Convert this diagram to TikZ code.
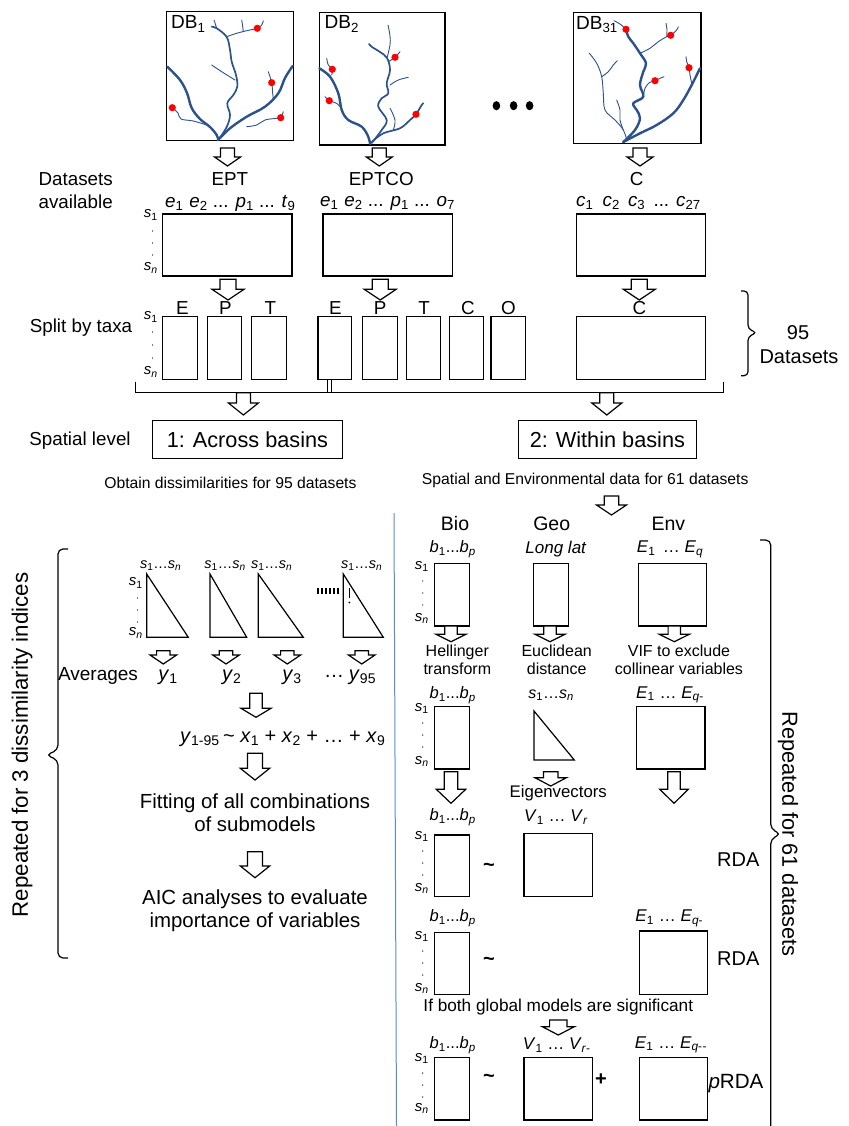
\documentclass[tikz,border=0pt]{standalone}
\usepackage{fontspec}
\setmainfont{Liberation Sans}
\definecolor{rivc}{RGB}{44,82,140}
\definecolor{sepc}{RGB}{90,140,205}
\newcommand\fs[2]{\fontsize{#1pt}{#2pt}\selectfont}
\newcommand\sone{\textit{s}\textsubscript{1}}
\newcommand\sen{\textit{s}\textsubscript{\textit{n}}}
\newcommand\rbox[5]{\node[bx, minimum width={(#4)-(#2)}, minimum height={(#5)-(#3)}] (#1) at ({((#2)+(#4))/2},{((#3)+(#5))/2}) {};}
\newcommand\barr[6]{\draw[barrst] ({#1-#5},#2) -- ({#1+#5},#2) -- ({#1+#5},#3) -- ({#1+#6},#3) -- (#1,#4) -- ({#1-#6},#3) -- ({#1-#5},#3) -- cycle;}
\newcommand\tri[4]{\draw[ln, line join=miter] (#1,#2) -- (#1,#4) -- (#3,#4) -- cycle;}
\newcommand\sdots[4]{\foreach \yy in {#2,#3,#4} \fill (#1,\yy) circle (0.7pt);}
\tikzset{
 bx/.style={draw, line width=1.2pt, inner sep=0pt},
 ln/.style={line width=1.2pt},
 barrst/.style={draw, line width=1.2pt, fill=white, line join=miter},
 riv/.style={rivc, line width=0.9pt, line cap=round, line join=round},
 rivm/.style={riv, line width=1.7pt},
 rivt/.style={riv, line width=2.4pt},
 tx/.style={inner sep=0pt, align=center},
 dotr/.style={fill=red},
}
\begin{document}
\begin{tikzpicture}[x=1pt,y=-1pt]
\useasboundingbox (0,0) rectangle (848,1126);
\fill[white] (0,0) rectangle (848,1126);

% ---------- DB boxes ----------
\rbox{db1}{166.7}{11.7}{293.3}{140.7}
\rbox{db2}{319.3}{12.7}{445}{145}
\rbox{db31}{573.3}{12.7}{701}{143.3}
\node[tx, anchor=west, font={\fs{19}{22}}] (db1l) at (171,24) {DB\textsubscript{1}};
\node[tx, anchor=west, font={\fs{19}{22}}] (db2l) at (324.5,24) {DB\textsubscript{2}};
\node[tx, anchor=west, font={\fs{19}{22}}] (db31l) at (576,24.5) {DB\textsubscript{31}};

% rivers DB1
\draw[rivt] plot[smooth, tension=0.6] coordinates {(167.3,66.7) (180,80) (187,93) (191.7,108) (200,119) (210,127) (216.7,135) (218.3,140)};
\draw[rivt] plot[smooth, tension=0.6] coordinates {(292.7,66) (285,78) (278.3,93.3) (265,106.7) (246.7,116.7) (230,128.3) (218,140)};
\draw[rivm] plot[smooth, tension=0.6] coordinates {(218.3,140) (226.7,127) (230,115) (227.3,103.3) (233.3,95) (237.3,86.7) (236,75) (231.7,61.7) (230,50) (226.7,37) (216.7,28.3) (211.7,26.7)};
\draw[riv] plot[smooth, tension=0.6] coordinates {(172.3,107.7) (178,113) (181,119) (193.3,121) (206.7,125)};
\draw[riv] plot[smooth, tension=0.6] coordinates {(235,80) (221.7,71.7) (211.7,65)};
\draw[riv] plot[smooth, tension=0.6] coordinates {(226.7,36.7) (236.7,33.3) (246.7,30.7) (257.3,28.3) (261.7,25) (263.3,20.7)};
\draw[riv] plot[smooth, tension=0.6] coordinates {(243.3,31.7) (242.5,25) (241.7,20)};
\draw[riv] plot[smooth, tension=0.6] coordinates {(216.7,28.3) (214,20)};
\draw[riv] plot[smooth, tension=0.6] coordinates {(268.3,71.7) (271.7,82.7) (272.7,93.3) (273.3,99)};
\draw[riv] plot[smooth, tension=0.6] coordinates {(246.7,126.7) (256.7,125) (265,120) (276.7,118.3) (280.7,117.7) (283.3,111.7)};
\foreach \p in {(172.3,107.7),(257.3,28.3),(271.7,82.7),(280.7,117.7)} \fill[dotr] \p circle (3.6pt);

% rivers DB2
\draw[rivt] plot[smooth, tension=0.6] coordinates {(319.3,68.3) (330,76.7) (338.3,93.3) (341.7,110) (348.3,120) (361.7,126.7) (368.3,136.7) (370,144)};
\draw[rivm] plot[smooth, tension=0.6] coordinates {(371.7,143) (381.7,130) (386.7,120) (378.3,106.7) (381.7,98.3) (388.3,93.3) (386.7,83.3) (390,70) (387,58) (380,52) (372,47) (369,44)};
\draw[riv] plot[smooth, tension=0.6] coordinates {(387,58) (390,45) (390,36) (388,25)};
\draw[rivm] plot[smooth, tension=0.6] coordinates {(371.7,142) (383.3,133.3) (400,128.3) (410,120) (416,114.3) (421.7,105) (423.3,103.3)};
\draw[riv] plot[smooth, tension=0.6] coordinates {(326.7,58.3) (328.3,65) (332.3,69.3) (331.7,75)};
\draw[riv] plot[smooth, tension=0.6] coordinates {(325,96.7) (329.3,100.7) (336.7,103.3) (340,106.7)};
\draw[riv] plot[smooth, tension=0.6] coordinates {(388.3,61.7) (395,57.3) (400,51.7)};
\draw[riv] plot[smooth, tension=0.6] coordinates {(390,85) (398.3,80) (408.3,77.3)};
\draw[riv] plot[smooth, tension=0.6] coordinates {(393.3,130) (395,120) (390,108.3)};
\foreach \p in {(332.3,69.3),(329.3,100.7),(395,57.3),(416,114.3)} \fill[dotr] \p circle (3.6pt);

% rivers DB31
\draw[rivt] plot[smooth, tension=0.6] coordinates {(623.3,142) (635,130) (640,118.3) (636.7,110) (633.3,103.3) (643.3,96.7) (640,85) (643.3,71.7) (646,63.3) (640,53.3) (633.3,43.3) (628.3,36.7) (626,29.3)};
\draw[riv] plot[smooth, tension=0.6] coordinates {(626,29.3) (620,24) (614,20.7)};
\draw[rivt] plot[smooth, tension=0.6] coordinates {(623.3,142) (640,133.3) (656.7,125) (673.3,113.3) (683.3,100) (691.7,85) (696.7,75) (700,68.3)};
\draw[riv] plot[smooth, tension=0.6] coordinates {(640,53.3) (650,48.3) (658.3,41.7) (666.7,36.7) (670.7,35.3) (676.7,30) (678.3,26.7)};
\draw[riv] plot[smooth, tension=0.6] coordinates {(666.7,36.7) (667,30) (666,23.3)};
\draw[riv] plot[smooth, tension=0.6] coordinates {(643.3,96.7) (645,88.3) (649.3,82.7) (655,80.7) (660,78.3) (664,76.7)};
\draw[riv] plot[smooth, tension=0.6] coordinates {(686,56.7) (686.7,61.7) (689,67.7) (690,75) (691.7,83.3)};
\draw[riv] plot[smooth, tension=0.6] coordinates {(589.3,53.3) (596.7,63.3) (601.7,76.7) (603.3,93.3) (605,110) (615,120) (623.3,130) (627,141)};
\draw[riv] plot[smooth, tension=0.6] coordinates {(601.7,76.7) (608.3,71.7) (613.3,65) (617.3,60.7)};
\draw[riv] plot[smooth, tension=0.6] coordinates {(616.7,100) (620,110) (620,120) (623.3,130)};
\foreach \p in {(626,29.3),(670.7,35.3),(655,80.7),(689,67.7)} \fill[dotr] \p circle (3.6pt);

% ellipsis dots
\foreach \xx in {496.4,513.6,529.6} \fill (\xx,105.7) ellipse (3.8pt and 4.6pt);

% top arrows
\barr{227.5}{148}{157}{166}{7}{13}
\barr{379.3}{148}{157}{166}{7}{13}
\barr{640}{148}{157}{166}{7}{13}

% ---------- datasets available ----------
\node[tx, font={\fs{18.8}{23}}] (dsa) at (75.7,190.5) {Datasets\\available};
\node[tx, font={\fs{18.8}{22}}] (ept) at (229.9,179) {EPT};
\node[tx, font={\fs{18.8}{22}}] (eptco) at (381.3,179) {EPTCO};
\node[tx, font={\fs{18.8}{22}}] (cc) at (636.6,179) {C};
\node[tx, anchor=west, font={\fs{18.8}{22}}] (cl1) at (165,203) {\textit{e}\textsubscript{1}\hspace{6pt}\textit{e}\textsubscript{2} ... \textit{p}\textsubscript{1} ... \textit{t}\textsubscript{9}};
\node[tx, anchor=west, font={\fs{18.8}{22}}] (cl2) at (320,203) {\textit{e}\textsubscript{1}\hspace{6pt}\textit{e}\textsubscript{2} ... \textit{p}\textsubscript{1} ... \textit{o}\textsubscript{7}};
\node[tx, anchor=west, font={\fs{18.8}{22}}] (cl3) at (576,203) {\textit{c}\textsubscript{1}\hspace{4pt} \textit{c}\textsubscript{2}\hspace{3pt} \textit{c}\textsubscript{3}\hspace{3pt} ... \textit{c}\textsubscript{27}};
\rbox{dept}{162.2}{214}{292}{276}
\rbox{deptco}{322.9}{214}{452.7}{276}
\rbox{dc}{576.5}{214}{705.8}{276}
\node[tx, anchor=east, font={\fs{15}{18}}] (s1a) at (158,215) {\sone};
\node[tx, anchor=east, font={\fs{15}{18}}] (sna) at (158,268) {\sen};
\sdots{152.5}{231}{243}{255}

% arrows to split
\barr{228}{279.3}{289.3}{300}{8}{16}
\barr{380.2}{279.3}{289.3}{300}{8}{16}
\barr{639.3}{279.3}{289.3}{300}{8}{16}

% ---------- split by taxa ----------
\node[tx, font={\fs{18.8}{22}}] (sbt) at (81,328) {Split by taxa};
\node[tx, anchor=east, font={\fs{15}{18}}] (s1b) at (158,317) {\sone};
\node[tx, anchor=east, font={\fs{15}{18}}] (snb) at (158,372) {\sen};
\sdots{152.5}{332}{345}{358}
\foreach \lx/\lt in {182.3/E,225.5/P,270.4/T,335.3/E,380.2/P,424/T,467.8/C,508.4/O,639.3/C}
  \node[tx, font={\fs{18.8}{22}}] at (\lx,308.5) {\lt};
\rbox{sE1}{162.2}{316.7}{197.4}{379.3}
\rbox{sP1}{207.1}{316.7}{241.8}{379.3}
\rbox{sT1}{251.5}{316.7}{286.6}{379.3}
\rbox{sE2}{318}{316.7}{351.5}{379.3}
\rbox{sP2}{362.4}{316.7}{397.5}{379.3}
\rbox{sT2}{406.7}{316.7}{440.8}{379.3}
\rbox{sC2}{449.4}{316.7}{483.5}{379.3}
\rbox{sO2}{491}{316.7}{525.7}{379.3}
\rbox{sC3}{576.5}{316.7}{705.8}{379.3}
\draw[ln, rounded corners=4pt] (741,291) -- (748,291) -- (748,329) -- (757,332.7) -- (748,336.5) -- (748,375.7) -- (741,375.7);
\node[tx, font={\fs{20}{24}}] (n95) at (798,333) {95};
\node[tx, font={\fs{20}{24}}] (n95d) at (799,357) {Datasets};

% bracket
\draw[ln] (135.2,381.7) -- (135.2,392.7) -- (723.6,392.7) -- (723.6,381.7);
\draw[line width=0.9pt] (327.2,379.3) -- (327.2,392.7) (331,379.3) -- (331,392.7);
\barr{243.4}{392.7}{403}{415}{7}{15}
\barr{606.8}{392.7}{403}{415}{7}{15}

% ---------- spatial level ----------
\node[tx, font={\fs{18.8}{22}}] (spl) at (80,441) {Spatial level};
\rbox{across}{152.5}{420.7}{342.3}{458.3}
\rbox{within}{518.1}{420.7}{696.6}{458.3}
\node[tx, font={\fs{21.7}{25}}] at (across) {1: Across basins};
\node[tx, font={\fs{21.7}{25}}] at (within) {2: Within basins};
\node[tx, font={\fs{15.7}{19}}] (obt) at (230.4,482.7) {Obtain dissimilarities for 95 datasets};
\node[tx, font={\fs{15.7}{19}}] (sed) at (585.2,480.7) {Spatial and Environmental data for 61 datasets};
\barr{611.5}{496}{505}{515}{7.3}{15}

% separator
\draw[sepc, line width=1pt] (394,513) -- (396.5,1126);

% ---------- left branch ----------
\draw[ln, rounded corners=5pt] (68,549) -- (58,549) -- (58,750) -- (46,755) -- (58,760) -- (58,958) -- (68,958);
\node[tx, rotate=90, font={\fs{22.3}{26}}] (rep3) at (22,745) {Repeated for 3 dissimilarity indices};

\foreach \tl/\tr/\lc in {146.7/188.3/160.7, 210/246.7/225, 258.3/303.3/271.7, 343.3/383.3/361.7} {
  \tri{\tl}{574}{\tr}{637.3}
  \node[tx, font={\fs{14.5}{17}}] at (\lc,566) {\textit{s}\textsubscript{1}…\textit{s}\textsubscript{\textit{n}}};
}
\node[tx, anchor=east, font={\fs{15}{18}}] (s1c) at (143,583) {\sone};
\node[tx, anchor=east, font={\fs{15}{18}}] (snc) at (143,633) {\sen};
\sdots{137.5}{598}{610}{622}
\foreach \xx in {318,322,326,330,334,338} \draw[line width=1.1pt] (\xx,588) -- (\xx,594);
\draw[line width=1.3pt] (349.3,588) -- (349.3,598);
\fill (349.3,602.5) circle (1pt);
\foreach \xx in {163.3,226,287.3,361.7} {\barr{\xx}{650.7}{655}{664}{6.7}{13.3}}
\node[tx, font={\fs{19}{22}}] (avg) at (98,676) {Averages};
\node[tx, font={\fs{20}{22}}] at (168,677) {\textit{y}\textsubscript{1}};
\node[tx, font={\fs{20}{22}}] at (231.7,677) {\textit{y}\textsubscript{2}};
\node[tx, font={\fs{20}{22}}] at (292,677) {\textit{y}\textsubscript{3}};
\node[tx, font={\fs{20}{22}}] at (334,676) {…};
\node[tx, font={\fs{20}{22}}] at (362.5,677) {\textit{y}\textsubscript{95}};
\barr{256}{693.3}{708.3}{717.3}{6.2}{15}
\node[tx, anchor=west, font={\fs{20}{22}}] (form) at (180,739) {\textit{y}\textsubscript{1-95}\,\textasciitilde{} \textit{x}\textsubscript{1} + \textit{x}\textsubscript{2} + … + \textit{x}\textsubscript{9}};
\barr{255}{753.3}{768.3}{780}{7.5}{14.7}
\node[tx, font={\fs{20.4}{23}}] (fit) at (255,812.5) {Fitting of all combinations\\of submodels};
\barr{255}{851.7}{866}{877.7}{7.5}{14.7}
\node[tx, font={\fs{20.4}{22.5}}] (aic) at (255,910.5) {AIC analyses to evaluate\\importance of variables};

% ---------- right branch ----------
\draw[ln, rounded corners=5pt] (760,540) -- (770.7,540) -- (770.7,829) -- (781,834) -- (770.7,839) -- (770.7,1140);
\node[tx, rotate=-90, font={\fs{21.8}{25}}] (rep61) at (788,834) {Repeated for 61 datasets};

\node[tx, font={\fs{19.5}{22}}] (bio) at (455,524) {Bio};
\node[tx, font={\fs{19.5}{22}}] (geo) at (551.7,524) {Geo};
\node[tx, font={\fs{19.5}{22}}] (env) at (668.3,524) {Env};

% row 1
\node[tx, font={\fs{16.5}{19}}] at (452.7,549.3) {\textit{b}\textsubscript{1}...\textit{b}\textsubscript{\textit{p}}};
\node[tx, font={\fs{17}{19}}] at (556,549.3) {\textit{Long lat}};
\node[tx, font={\fs{17}{19}}] at (670,549.3) {\textit{E}\textsubscript{1}\, … \textit{E}\textsubscript{\textit{q}}};
\rbox{bio1}{434.3}{563.3}{469.3}{626}
\rbox{geo1}{533.3}{563.3}{568.3}{626}
\rbox{env1}{638.7}{563.3}{706.7}{626}
\node[tx, anchor=east, font={\fs{15}{18}}] at (429,566.7) {\sone};
\node[tx, anchor=east, font={\fs{15}{18}}] at (429,618.3) {\sen};
\sdots{422.7}{581}{593}{605}
\barr{451}{626}{634.3}{641.7}{6.2}{15}
\barr{550}{626}{634.3}{641.7}{6.2}{15}
\barr{674.3}{626}{634.3}{641.7}{6.2}{15}
\node[tx, font={\fs{16}{18.3}}] at (457.3,660) {Hellinger\\transform};
\node[tx, font={\fs{16}{18.3}}] at (556.7,660) {Euclidean\\distance};
\node[tx, font={\fs{16}{18.3}}] at (679,660) {VIF to exclude\\collinear variables};

% row 2
\node[tx, font={\fs{16.5}{19}}] at (452.7,695) {\textit{b}\textsubscript{1}...\textit{b}\textsubscript{\textit{p}}};
\node[tx, font={\fs{16}{19}}] at (551,695) {\textit{s}\textsubscript{1}…\textit{s}\textsubscript{\textit{n}}};
\node[tx, font={\fs{17}{19}}] at (670,695) {\textit{E}\textsubscript{1} … \textit{E}\textsubscript{\textit{q}-}};
\rbox{bio2}{434.3}{706.7}{469.3}{769}
\tri{534}{711}{574.3}{760}
\rbox{env2}{636.7}{706.7}{705}{769}
\node[tx, anchor=east, font={\fs{15}{18}}] at (429,708.3) {\sone};
\node[tx, anchor=east, font={\fs{15}{18}}] at (429,761.7) {\sen};
\sdots{422.7}{723}{735}{747}
\barr{451}{771.7}{789.3}{803.3}{6.7}{14.7}
\barr{550.7}{771.7}{777.7}{786}{7.2}{15.7}
\barr{674}{771.7}{789.3}{803.3}{6.2}{14.2}
\node[tx, font={\fs{16.8}{19}}] at (558.3,793.5) {Eigenvectors};

% row 3
\node[tx, font={\fs{16.5}{19}}] at (452.7,817.3) {\textit{b}\textsubscript{1}...\textit{b}\textsubscript{\textit{p}}};
\node[tx, font={\fs{17}{19}}] at (556,817.3) {\textit{V}\textsubscript{1} … \textit{V}\textsubscript{\textit{r}}};
\rbox{bio3}{434.3}{835}{469.3}{896.7}
\rbox{v3}{524}{833.3}{592.3}{896.7}
\node[tx, anchor=east, font={\fs{15}{18}}] at (429,836.7) {\sone};
\node[tx, anchor=east, font={\fs{15}{18}}] at (429,888.3) {\sen};
\sdots{422.7}{851}{863}{875}
\node[tx, font={\fs{20}{22}}] at (489,867) {\textbf{\textasciitilde}};
\node[tx, font={\fs{20}{22}}] at (738.3,860) {RDA};

% row 4
\node[tx, font={\fs{16.5}{19}}] at (452.7,918.3) {\textit{b}\textsubscript{1}...\textit{b}\textsubscript{\textit{p}}};
\node[tx, font={\fs{17}{19}}] at (669.3,918.3) {\textit{E}\textsubscript{1} … \textit{E}\textsubscript{\textit{q}-}};
\rbox{bio4}{434.3}{932.7}{469.3}{994.3}
\rbox{env4}{639.3}{931}{707.3}{994.3}
\node[tx, anchor=east, font={\fs{15}{18}}] at (429,936.7) {\sone};
\node[tx, anchor=east, font={\fs{15}{18}}] at (429,988.3) {\sen};
\sdots{422.7}{951}{963}{975}
\node[tx, font={\fs{20}{22}}] at (489,961.5) {\textbf{\textasciitilde}};
\node[tx, font={\fs{20}{22}}] at (738.3,958.3) {RDA};
\node[tx, font={\fs{17.2}{20}}] (ifboth) at (558.3,1007.3) {If both global models are significant};
\barr{558.3}{1020}{1026.7}{1035}{8.7}{16}

% row 5
\node[tx, font={\fs{16.5}{19}}] at (452.7,1045) {\textit{b}\textsubscript{1}...\textit{b}\textsubscript{\textit{p}}};
\node[tx, font={\fs{17}{19}}] at (556.7,1045) {\textit{V}\textsubscript{1} … \textit{V}\textsubscript{\textit{r}-}};
\node[tx, font={\fs{17}{19}}] at (671,1045) {\textit{E}\textsubscript{1} … \textit{E}\textsubscript{\textit{q}-\kern0.5pt-}};
\rbox{bio5}{434.3}{1057.7}{469.3}{1120}
\rbox{v5}{524}{1057.7}{592.3}{1120}
\rbox{env5}{639.3}{1057.7}{707.3}{1120}
\node[tx, anchor=east, font={\fs{15}{18}}] at (429,1058.3) {\sone};
\node[tx, anchor=east, font={\fs{15}{18}}] at (429,1108.3) {\sen};
\sdots{422.7}{1073}{1085}{1097}
\node[tx, font={\fs{20}{22}}] at (489,1078) {\textbf{\textasciitilde}};
\node[tx, font={\fs{20}{22}}] at (601,1079.3) {\textbf{+}};
\node[tx, font={\fs{20.6}{22}}] at (736,1083.3) {\textit{p}RDA};
\end{tikzpicture}
\end{document}
